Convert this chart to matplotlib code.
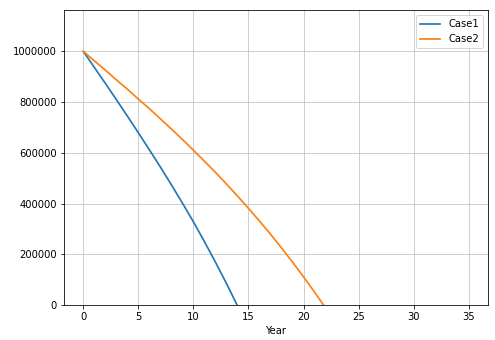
import matplotlib
matplotlib.use("Agg")
import matplotlib.pyplot as plt

# remaining balance per year
years_case1 = list(range(0, 16))
balance_case1 = [1000000, 937000, 874000, 810000, 745000, 679000, 612000, 544000,
                 474000, 402000, 328000, 250000, 169000, 85000, -3000, -95000]

years_case2 = list(range(0, 24))
balance_case2 = [1000000, 963000, 926000, 888000, 851000, 812000, 774000, 734000,
                 694000, 653000, 610000, 567000, 523000, 477000, 430000, 381000,
                 331000, 279000, 225000, 169000, 111000, 51000, -12000, -77000]

fig = plt.figure(figsize=(495 / 72, 340 / 72), dpi=72)
ax = fig.add_axes([64 / 495, 1 - 305 / 340, 424 / 495, 295 / 340])

ax.plot(years_case1, balance_case1, label="Case1", lw=1.7)
ax.plot(years_case2, balance_case2, label="Case2", lw=1.7)

ax.set_xlim(-1.75, 36.75)
ax.set_ylim(0, 1163000)
ax.ticklabel_format(axis="y", style="plain", useOffset=False)
ax.set_xlabel("Year")
ax.grid(True, color="#c4c4c4")
ax.legend(loc="upper right")

fig.savefig("out.png", dpi=72)
